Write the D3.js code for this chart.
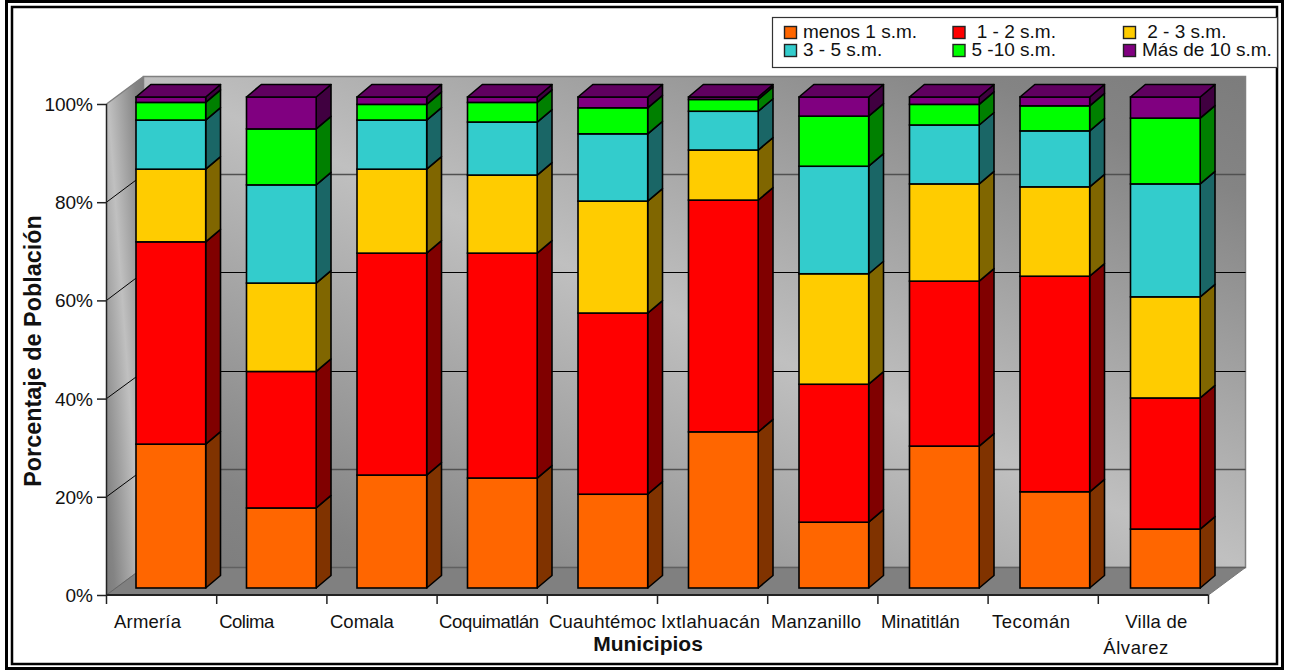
<!DOCTYPE html>
<html><head><meta charset="utf-8">
<script src="https://cdn.jsdelivr.net/npm/d3@7/dist/d3.min.js"></script>
<style>html,body{margin:0;padding:0;background:#fff;overflow:hidden}svg{display:block}text{font-family:"Liberation Sans",Arial,sans-serif;fill:#111}</style>
</head><body><svg id="c" width="1289" height="671"></svg>
<script>
const municipios=["Armería","Colima","Comala","Coquimatlán","Cuauhtémoc","Ixtlahuacán","Manzanillo","Minatitlán","Tecomán","Villa de|Álvarez"];
const seriesNames=["menos 1 s.m."," 1 - 2 s.m."," 2 - 3 s.m.","3 - 5 s.m.","5 -10 s.m.","Más de 10 s.m."];
const menos1=[29.3,16.3,23.0,22.4,19.1,31.8,13.4,28.9,19.6,12.0];
const de1a2=[41.2,27.8,45.2,45.8,36.9,47.2,28.1,33.6,43.9,26.7];
const de2a3=[14.8,18.0,17.1,15.9,22.8,10.2,22.5,19.8,18.2,20.6];
const de3a5=[10.0,20.0,10.0,10.8,13.7,7.9,21.9,12.0,11.4,23.0];
const de5a10=[3.6,11.4,3.2,4.0,5.3,2.4,10.2,4.2,5.1,13.4];
const mas10=[1.1,6.5,1.5,1.1,2.2,0.5,3.9,1.5,1.8,4.3];
const seriesValues=[menos1,de1a2,de2a3,de3a5,de5a10,mas10];
const seriesColors=["#ff6600","#ff0000","#ffcc00","#33cccc","#00ff00","#800080"];
const sideColors=["#803300","#800000","#806600","#1a6666","#008000","#400040"];
const topColor="#600060";
const yTicks=[0,20,40,60,80,100];
// layout of the category labels (offset from the tick, fitted width)
const labelOffsets=[[7.5],[2.5],[3],[2],[1.7],[3.5],[3.3],[3],[4],[27,5]];
const labelWidths=[[67],[55],[64],[100],[107],[99],[90],[79],[78],[62,65]];

const svg=d3.select("#c");
const defs=svg.append("defs");
const g=defs.append("linearGradient").attr("id","wall").attr("x1",0).attr("y1",1).attr("x2",1).attr("y2",0);
g.append("stop").attr("offset",0).attr("stop-color","#7c7c7c");
g.append("stop").attr("offset",.12).attr("stop-color","#848484");
g.append("stop").attr("offset",.5).attr("stop-color","#c0c0c0");
g.append("stop").attr("offset",.88).attr("stop-color","#848484");
g.append("stop").attr("offset",1).attr("stop-color","#7c7c7c");

// frame
svg.append("rect").attr("x",6.5).attr("y",1.5).attr("width",1276).attr("height",667).attr("fill","none").attr("stroke","#000").attr("stroke-width",3);
svg.append("rect").attr("x",12).attr("y",7).attr("width",1265).attr("height",657).attr("fill","none").attr("stroke","#000").attr("stroke-width",2.5);

const dx=37,dy=-27.5;
const y=d3.scaleLinear().domain([0,100]).range([595,104]);
const xAxis=d3.scaleBand().domain(municipios).range([106.5,1208.5]);
const barX=d3.scaleBand().domain(municipios).range([136,1241]);
const pts=a=>a.map(p=>p.join(",")).join(" ");

// walls
svg.append("polygon").attr("points",pts([[106.5,y(100)],[106.5+dx,y(100)+dy],[106.5+dx,y(0)+dy],[106.5,y(0)]])).attr("fill","url(#wall)");
svg.append("rect").attr("x",106.5+dx).attr("y",y(100)+dy).attr("width",1102).attr("height",y(0)-y(100)).attr("fill","url(#wall)").attr("stroke","#808080").attr("stroke-width",1.5);
svg.append("polygon").attr("points",pts([[106.5,y(0)],[106.5+dx,y(0)+dy],[1208.5+dx,y(0)+dy],[1208.5,y(0)]])).attr("fill","#808080").attr("stroke","#777").attr("stroke-width",1);
svg.append("line").attr("x1",106.5).attr("x2",106.5+dx).attr("y1",y(100)).attr("y2",y(100)+dy).attr("stroke","#808080").attr("stroke-width",1.5);
// gridlines
yTicks.filter(t=>t>0&&t<100).forEach(t=>{
  const soft=t===20||t===80;
  const gy=Math.floor(y(t)+dy)+.5;
  svg.append("line").attr("x1",106.5+dx).attr("x2",1208.5+dx).attr("y1",gy).attr("y2",gy).attr("stroke",soft?"#505050":"#000").attr("stroke-width",soft?1.5:1);
  svg.append("line").attr("x1",106.5).attr("x2",106.5+dx).attr("y1",y(t)).attr("y2",gy).attr("stroke","#000").attr("stroke-width",1);
});
svg.append("line").attr("x1",143.5).attr("x2",1245.5).attr("y1",y(0)+dy).attr("y2",y(0)+dy).attr("stroke","#606060").attr("stroke-width",1.5);
svg.append("line").attr("x1",106.5).attr("x2",106.5+dx).attr("y1",y(0)).attr("y2",y(0)+dy).attr("stroke","#666").attr("stroke-width",1);

// axes
const ya=d3.axisLeft(y).tickValues(yTicks).tickFormat(d=>d+"%").tickSize(9.5).tickPadding(4);
const yg=svg.append("g").attr("transform","translate(106.5,0)").call(ya);
yg.selectAll("text").attr("font-size",19).attr("font-family",null).attr("dy","0.34em");
yg.selectAll("line").attr("stroke","#222").attr("stroke-width",1.5);
yg.select(".domain").attr("d","M0,104V595").attr("stroke","#222").attr("stroke-width",1.5);
const xa=svg.append("g");
xa.append("line").attr("x1",106.5).attr("x2",1208.5).attr("y1",595).attr("y2",595).attr("stroke","#222").attr("stroke-width",2);
municipios.concat(["end"]).forEach((d,i)=>{
  const x0=i<10?xAxis(d):1208.5;
  xa.append("line").attr("x1",x0).attr("x2",x0).attr("y1",595).attr("y2",604).attr("stroke","#222").attr("stroke-width",1.5);
});
municipios.forEach((d,k)=>{
  d.split("|").forEach((s,i)=>svg.append("text").attr("x",xAxis(d)+labelOffsets[k][i]).attr("y",628+i*26)
    .attr("font-size",18.5).attr("textLength",labelWidths[k][i]).attr("lengthAdjust","spacing").text(s));
});

// bars
const bw=69.7,bdx=14.8,bdy=-12.5,by0=y(0)-7;
const h=d3.scaleLinear().domain([0,100]).range([0,491]);
const sw=1.6;
municipios.forEach((m,i)=>{
  const x0=barX(m),xr=x0+bw;
  let cum=0;
  seriesValues.forEach((vals,s)=>{
    const yb=by0-h(cum),yt=by0-h(cum+vals[i]);
    svg.append("polygon").attr("points",pts([[xr,yb],[xr+bdx,yb+bdy],[xr+bdx,yt+bdy],[xr,yt]])).attr("fill",sideColors[s]).attr("stroke","#000").attr("stroke-width",sw).attr("stroke-linejoin","round");
    svg.append("rect").attr("x",x0).attr("y",yt).attr("width",bw).attr("height",yb-yt).attr("fill",seriesColors[s]).attr("stroke","#000").attr("stroke-width",sw);
    cum+=vals[i];
  });
  const yt=by0-h(cum);
  svg.append("polygon").attr("points",pts([[x0,yt],[xr,yt],[xr+bdx,yt+bdy],[x0+bdx,yt+bdy]])).attr("fill",topColor).attr("stroke","#000").attr("stroke-width",sw).attr("stroke-linejoin","round");
});

// axis titles
svg.append("text").attr("x",648).attr("y",651).attr("text-anchor","middle").attr("font-size",21).attr("font-weight","bold").text("Municipios");
svg.append("text").attr("transform","translate(41,351) rotate(-90)").attr("text-anchor","middle").attr("font-size",23.4).attr("font-weight","bold").text("Porcentaje de Población");

// legend
svg.append("rect").attr("x",772.5).attr("y",17.5).attr("width",505).attr("height",50).attr("fill","#fff").attr("stroke","#333").attr("stroke-width",1.2);
const lx=[784.5,953,1123.5],ly=[26.5,44.5];
seriesNames.forEach((n,i)=>{
  const c=i%3,r=Math.floor(i/3);
  svg.append("rect").attr("x",lx[c]).attr("y",ly[r]).attr("width",12).attr("height",12).attr("fill",seriesColors[i]).attr("stroke","#222").attr("stroke-width",1.4);
  svg.append("text").style("white-space","pre").attr("x",lx[c]+18.5).attr("y",ly[r]+11.5).attr("font-size",19).text(n);
});
</script></body></html>
